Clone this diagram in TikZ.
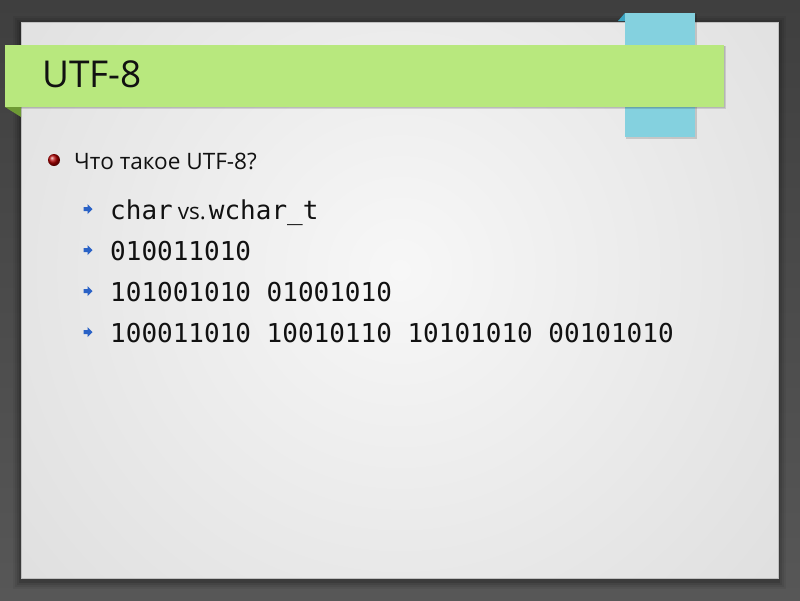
\documentclass[tikz,border=0pt]{standalone}
\usepackage{fontspec}
\setmainfont{Open Sans}
\setmonofont{DejaVu Sans Mono}
\usetikzlibrary{shadings}
\definecolor{bgdark}{HTML}{3F3F3F}
\definecolor{bglight}{HTML}{575757}
\definecolor{pagein}{HTML}{F7F7F7}
\definecolor{pageout}{HTML}{DEDEDE}
\definecolor{banner}{HTML}{B8E87E}
\definecolor{bannerfold}{HTML}{6E9A35}
\definecolor{tab}{HTML}{84D1DF}
\definecolor{tabfold}{HTML}{3AA4C2}
\definecolor{bulletblue}{HTML}{2A62C6}
\definecolor{txt}{HTML}{111111}
\tikzset{
  titletext/.style={anchor=base west, inner sep=0pt, text=txt, font=\fontsize{37}{42}\selectfont},
  bodytext/.style={anchor=base west, inner sep=0pt, text=txt, font=\fontsize{22.6}{26}\selectfont},
  monotext/.style={anchor=base west, inner sep=0pt, text=txt, font=\fontsize{26}{30}\selectfont\ttfamily},
  arrowbullet/.style={fill=bulletblue, draw=none},
}
\begin{document}
\begin{tikzpicture}[x=1pt,y=-1pt]
\useasboundingbox (0,0) rectangle (800,600);
% background
\shade[top color=bgdark, bottom color=bglight] (0,0) rectangle (800,600);
% page shadow
\foreach \d/\o in {8/0.05,6/0.07,4/0.09,2/0.12}{
  \fill[black, opacity=\o] (21-\d,21-\d+3) rectangle (778+\d,578+\d+3);
}
% page
\begin{scope}
\clip (21,22) rectangle (778,578);
\shade[inner color=pagein, outer color=pageout] (400,270) circle (520);
\end{scope}
\draw[black!25, line width=0.8pt] (21,22) rectangle (778,578);
% blue tab
\fill[black, opacity=0.15] (626,14) rectangle (697,139);
\fill[tabfold] (618,21) -- (625,13) -- (625,21) -- cycle;
\fill[tab] (625,13) rectangle (695,137);
% green banner
\fill[black, opacity=0.12] (6,46) rectangle (726,109);
\fill[black, opacity=0.10] (6,46) rectangle (725,108);
\fill[bannerfold] (5,107) -- (21,107) -- (21,117) -- cycle;
\fill[banner] (5,45) rectangle (724,107);
% title
\node[titletext] (title) at (42,87) {UTF-8};
% first level
\shade[ball color=red!70!black] (54,160) circle (6);
\node[bodytext] (q) at (74,169) {Что такое UTF-8?};
% second level bullets
\foreach \y in {209,250,291,332}{
  \fill[arrowbullet] (83.5,\y-2) -- (87.5,\y-2) -- (87.5,\y-5) -- (92.5,\y) -- (87.5,\y+5) -- (87.5,\y+2) -- (83.5,\y+2) -- cycle;
}
\node[monotext] (l1) at (110,219) {char\hspace{5pt}{\rmfamily\fontsize{22.6}{26}\selectfont vs.}\hspace{3pt}wchar\_t};
\node[monotext] (l2) at (110,260) {010011010};
\node[monotext] (l3) at (110,301) {101001010 01001010};
\node[monotext] (l4) at (110,342) {100011010 10010110 10101010 00101010};
\end{tikzpicture}
\end{document}
